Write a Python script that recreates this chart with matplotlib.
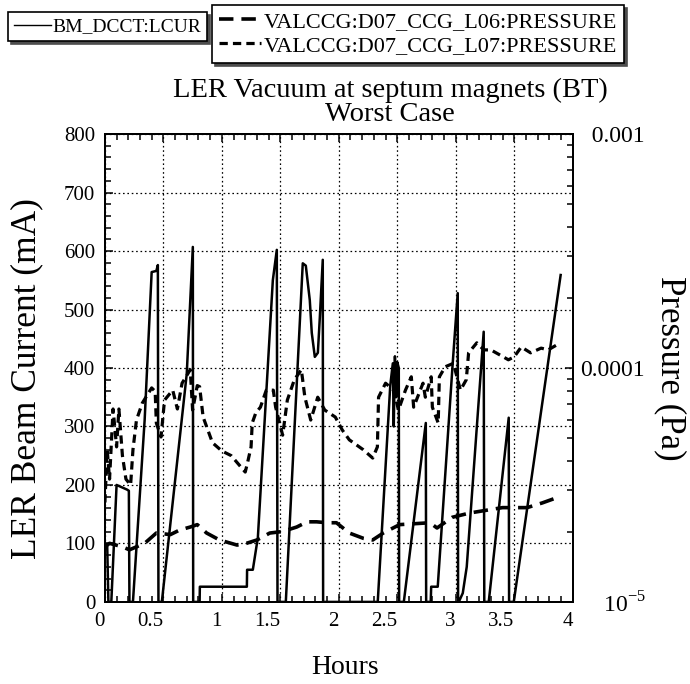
import matplotlib
matplotlib.use("Agg")
import matplotlib.pyplot as plt
from matplotlib.ticker import MultipleLocator, FixedLocator, FixedFormatter, LogLocator, NullFormatter

plt.rcParams['font.family'] = ['Liberation Serif', 'DejaVu Serif']
plt.rcParams['mathtext.fontset'] = 'custom'
plt.rcParams['mathtext.rm'] = 'Liberation Serif'

# beam current BM_DCCT:LCUR (mA)
cur_t = [0.00, 0.02, 0.03, 0.055, 0.10, 0.19, 0.205, 0.21, 0.24, 0.34, 0.40, 0.44, 0.453, 0.458,
         0.487, 0.70, 0.752, 0.755, 0.810, 0.812, 1.214, 1.216, 1.265, 1.308, 1.436, 1.470, 1.476,
         1.547, 1.692, 1.718, 1.752, 1.769, 1.795, 1.821, 1.838, 1.863, 1.866,
         2.333, 2.440, 2.462, 2.470, 2.480, 2.490, 2.500, 2.513, 2.516,
         2.556, 2.744, 2.747, 2.786, 2.790, 2.846, 2.974, 3.017, 3.020,
         3.026, 3.060, 3.094, 3.239, 3.244, 3.282, 3.453, 3.456, 3.496, 3.897]
cur_mA = [95, 95, 0, 0, 200, 192, 190, 0, 0, 311, 564, 566, 576, 0,
          0, 390, 607, 0, 0, 26, 26, 55, 55, 110, 550, 602, 0,
          0, 579, 575, 516, 460, 419, 426, 487, 585, 0,
          0, 370, 408, 300, 420, 350, 410, 400, 0,
          0, 306, 0, 0, 26, 26, 408, 528, 0,
          0, 15, 60, 462, 0, 0, 315, 0, 0, 559]

# VALCCG:D07_CCG_L06:PRESSURE (Pa)
l06_t = [0.00, 0.04, 0.15, 0.21, 0.34, 0.44, 0.56, 0.64, 0.73, 0.79, 0.87, 0.98, 1.13, 1.21,
         1.30, 1.41, 1.52, 1.64, 1.73, 1.81, 1.90, 1.98, 2.09, 2.21, 2.29, 2.38, 2.52,
         2.78, 2.84, 2.97, 3.12, 3.40, 3.61, 3.74, 3.89]
l06_p = [1.72e-5, 1.78e-5, 1.72e-5, 1.67e-5, 1.78e-5, 1.97e-5, 1.94e-5, 2.03e-5, 2.09e-5,
         2.14e-5, 1.97e-5, 1.84e-5, 1.75e-5, 1.78e-5, 1.84e-5, 1.97e-5, 2.00e-5, 2.09e-5,
         2.20e-5, 2.20e-5, 2.18e-5, 2.18e-5, 1.97e-5, 1.87e-5, 1.84e-5, 1.97e-5, 2.14e-5,
         2.18e-5, 2.07e-5, 2.30e-5, 2.40e-5, 2.53e-5, 2.53e-5, 2.65e-5, 2.82e-5]

# VALCCG:D07_CCG_L07:PRESSURE (Pa)
l07_t = [0.00, 0.02, 0.04, 0.07, 0.10, 0.12, 0.15, 0.18, 0.22, 0.24, 0.27, 0.32, 0.40, 0.43,
         0.44, 0.48, 0.51, 0.58, 0.62, 0.66, 0.73, 0.75, 0.79, 0.81, 0.84, 0.92, 1.00, 1.08,
         1.20, 1.22, 1.25, 1.26, 1.29, 1.33, 1.38, 1.44, 1.46, 1.52, 1.56, 1.62, 1.68, 1.71,
         1.76, 1.82, 1.88, 1.97, 2.03, 2.09, 2.21, 2.29, 2.33, 2.34, 2.40, 2.47, 2.51, 2.57,
         2.62, 2.64, 2.72, 2.74, 2.79, 2.80, 2.85, 2.86, 2.91, 2.98, 3.04, 3.09, 3.11, 3.18,
         3.24, 3.30, 3.38, 3.45, 3.50, 3.56, 3.64, 3.73, 3.79, 3.86]
l07_p = [2.66e-5, 4.47e-5, 3.35e-5, 6.68e-5, 4.60e-5, 6.68e-5, 4.22e-5, 3.35e-5, 3.16e-5,
         4.47e-5, 5.99e-5, 7.08e-5, 8.22e-5, 7.94e-5, 5.82e-5, 5.07e-5, 7.29e-5, 8.04e-5,
         6.68e-5, 8.61e-5, 9.83e-5, 6.61e-5, 8.41e-5, 8.32e-5, 6.17e-5, 4.79e-5, 4.42e-5,
         4.22e-5, 3.59e-5, 3.94e-5, 4.60e-5, 5.82e-5, 6.42e-5, 6.80e-5, 8.04e-5, 8.04e-5,
         6.80e-5, 5.16e-5, 7.29e-5, 8.91e-5, 9.83e-5, 7.50e-5, 5.99e-5, 7.50e-5, 6.61e-5,
         6.17e-5, 5.43e-5, 4.93e-5, 4.47e-5, 4.12e-5, 4.60e-5, 7.50e-5, 8.61e-5, 8.04e-5,
         6.61e-5, 8.04e-5, 9.17e-5, 6.80e-5, 8.61e-5, 7.50e-5, 9.17e-5, 6.80e-5, 5.82e-5,
         9.17e-5, 1.012e-4, 1.047e-4, 8.04e-5, 8.91e-5, 1.161e-4, 1.281e-4, 1.195e-4,
         1.195e-4, 1.135e-4, 1.084e-4, 1.116e-4, 1.230e-4, 1.161e-4, 1.216e-4, 1.195e-4,
         1.252e-4]

x_ticks = [0, 0.5, 1, 1.5, 2, 2.5, 3, 3.5, 4]
x_labels = ['0', '0.5', '1', '1.5', '2', '2.5', '3', '3.5', '4']
p_ticks = [1e-5, 1e-4, 1e-3]
p_labels = [r'    $10^{-5}$', '0.0001', '  0.001']

fig = plt.figure(figsize=(6.9, 6.84), dpi=100)
ax = fig.add_axes([0.152, 0.120, 0.678, 0.684])
ax2 = ax.twinx()

l_cur, = ax.plot(cur_t, cur_mA, color='black', lw=1.8, label='BM_DCCT:LCUR')
l6, = ax2.plot(l06_t, l06_p, color='black', lw=2.6, dashes=(4, 2.2),
               label='VALCCG:D07_CCG_L06:PRESSURE')
l7, = ax2.plot(l07_t, l07_p, color='black', lw=2.3, dashes=(2.6, 1.6),
               label='VALCCG:D07_CCG_L07:PRESSURE')

ax.set_xlim(0, 4)
ax.set_ylim(0, 800)
ax.xaxis.set_major_locator(FixedLocator(x_ticks))
ax.xaxis.set_major_formatter(FixedFormatter(x_labels))
ax.xaxis.set_minor_locator(MultipleLocator(0.1))
ax.yaxis.set_major_locator(MultipleLocator(100))
ax.yaxis.set_minor_locator(MultipleLocator(20))
ax.grid(True, which='major', color='black', linestyle=(0, (1.3, 2.2)), lw=0.9)
ax.tick_params(which='both', direction='in', top=True, right=False, labelsize=15, width=1.1)
ax.tick_params(which='major', length=6, pad=7)
ax.tick_params(which='minor', length=4)
for lbl in ax.get_xticklabels():
    lbl.set_horizontalalignment('right')

ax2.set_yscale('log')
ax2.set_ylim(1e-5, 1e-3)
ax2.yaxis.set_major_locator(FixedLocator(p_ticks))
ax2.yaxis.set_major_formatter(FixedFormatter(p_labels))
ax2.yaxis.set_minor_locator(LogLocator(base=10, subs=range(2, 10)))
ax2.yaxis.set_minor_formatter(NullFormatter())
ax2.tick_params(which='both', direction='in', labelsize=17, width=1.1, pad=5)
ax2.tick_params(which='major', length=6)
ax2.tick_params(which='minor', length=4)

for a in (ax, ax2):
    for s in a.spines.values():
        s.set_linewidth(1.4)

fig.text(27 / 690, 1 - 379 / 684, 'LER Beam Current (mA)', rotation=90,
         ha='center', va='center', fontsize=25.5)
fig.text(670 / 690, 1 - 368 / 684, 'Pressure (Pa)', rotation=270,
         ha='center', va='center', fontsize=25)
fig.text(345 / 690, 1 - 668 / 684, 'Hours', ha='center', va='center', fontsize=20)

fig.text(390 / 690, 1 - 102 / 684, 'LER Vacuum at septum magnets (BT)\nWorst Case',
         ha='center', va='center', multialignment='center', fontsize=20.5, linespacing=0.95)

shadow = {'color': '0.3', 'alpha': 1.0}
leg1 = fig.legend(handles=[l_cur], loc='upper left', bbox_to_anchor=(8 / 690, 1 - 12 / 684),
                  fontsize=14, frameon=True, fancybox=False, shadow=shadow,
                  handlelength=1.9, handletextpad=0.1, borderpad=0.3, borderaxespad=0)
leg1.get_frame().set_edgecolor('black')
leg1.get_frame().set_linewidth(1.2)
leg1.get_lines()[0].set_linewidth(1.0)

leg2 = fig.legend(handles=[l6, l7], loc='upper left', bbox_to_anchor=(212 / 690, 1 - 5 / 684),
                  fontsize=16, frameon=True, fancybox=False, shadow=shadow,
                  handlelength=1.9, handletextpad=0.15, borderpad=0.3, labelspacing=0.15,
                  borderaxespad=0)
leg2.get_frame().set_edgecolor('black')
leg2.get_frame().set_linewidth(1.2)

fig.savefig('out.png', dpi=100)
